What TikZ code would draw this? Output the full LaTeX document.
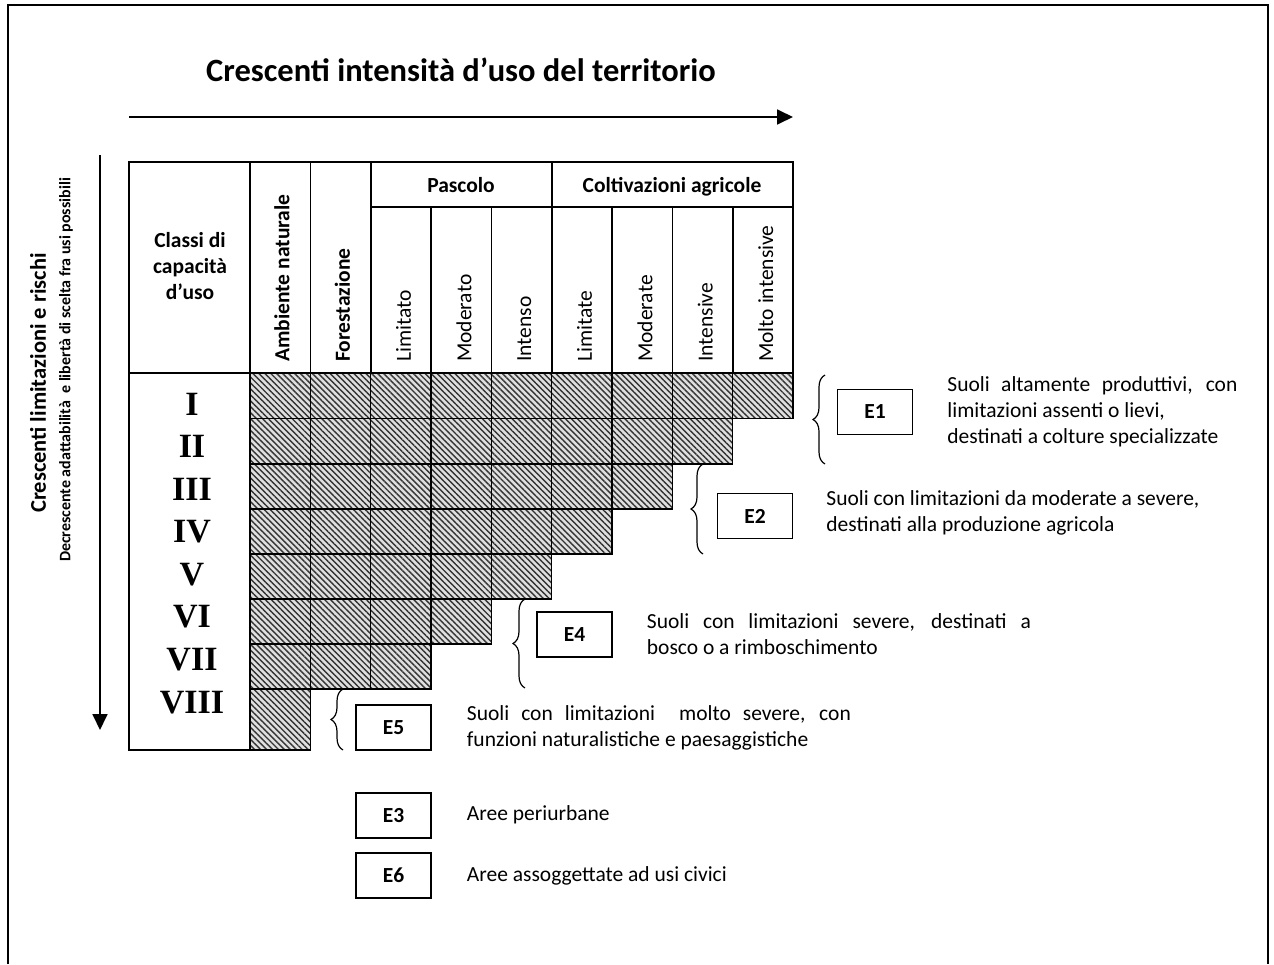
\documentclass[tikz,border=0pt]{standalone}
\usepackage{fontspec}
\setmainfont{Carlito}
\newfontfamily\romanfont{Liberation Serif}
\usetikzlibrary{arrows.meta,patterns.meta,decorations.pathreplacing,positioning}
\tikzset{
        frame/.style={line width=1.6pt},
        grid line/.style={line width=1.6pt},
        hatch/.style={
            preaction={fill=gray!25},
            pattern={Lines[angle=-45,distance=4.2pt,line width=1.4pt]},
            pattern color=black!80
        },
        head/.style={
            font=\fontsize{21.5}{25.6}\selectfont\bfseries,
            align=center
        },
        colhead/.style={
            font=\fontsize{21.5}{25.6}\selectfont,
            rotate=90, anchor=west, inner sep=0pt
        },
        numeral/.style={
            font=\romanfont\fontsize{34}{34}\selectfont\bfseries
        },
        ebox/.style={
            draw, line width=1.4pt,
            minimum width=75pt, minimum height=45pt,
            inner sep=0pt,
            font=\fontsize{21.5}{25}\selectfont\bfseries
        },
        desc/.style={
            font=\fontsize{21.5}{26}\selectfont,
            anchor=west, inner sep=0pt
        },
        curly/.style={
            decorate, decoration={brace, amplitude=12pt},
            line width=1.2pt
        },
        axis/.style={
            line width=1.8pt,
            -{Triangle[length=16pt,width=15pt]}
        }
    }

\begin{document}
\begin{tikzpicture}[x=1pt, y=-1pt]
    \useasboundingbox (0,0) rectangle (1274,964);
    \draw[frame] (8,964) -- (8,5) -- (1268,5) -- (1268,964);

    % title and axes
    \node[head, font=\fontsize{32.5}{36}\selectfont\bfseries] (title) at (461,70)
        {Crescenti intensit\`a d'uso del territorio};
    \coordinate (hstart) at (129,117);
    \coordinate (hend) at (793,117);
    \draw[axis] (hstart) -- (hend);
    \coordinate (vstart) at (100,155);
    \coordinate (vend) at (100,730);
    \draw[axis] (vstart) -- (vend);
    \node[rotate=90, font=\fontsize{22.5}{26}\selectfont\bfseries] (risk) at (38,383)
        {Crescenti limitazioni e rischi};
    \node[rotate=90, font=\fontsize{16}{18}\selectfont\bfseries] (adapt) at (66,370)
        {Decrescente adattabilit\`a\ \ e libert\`a di scelta fra usi possibili};

    % table header
    \draw[grid line] (129,162) rectangle (793,373);
    \foreach \x in {250,310.3,370.7,551.7}
        \draw[grid line] (\x,162) -- (\x,373);
    \draw[grid line] (370.7,207) -- (793,207);
    \foreach \x in {431,491.3,612,672.3,732.7}
        \draw[grid line] (\x,207) -- (\x,373);

    \node[head] (classi) at (190,266) {Classi di\\capacit\`a\\d'uso};
    \node[head, anchor=base] (pascolo) at (461,192) {Pascolo};
    \node[head, anchor=base] (coltiv) at (672,192) {Coltivazioni agricole};
    \node[colhead, font=\fontsize{21.5}{25.6}\selectfont\bfseries] (amb) at (282,362) {Ambiente naturale};
    \node[colhead, font=\fontsize{21.5}{25.6}\selectfont\bfseries] (fore) at (342.5,362) {Forestazione};
    \foreach \t [count=\i from 2] in {Limitato,Moderato,Intenso,Limitate,Moderate,Intensive,Molto intensive}
        \node[colhead] (col\i) at ({250+60.33*\i+33},362) {\t};

    % classes
    \draw[grid line] (129,373) rectangle (250,750);
    \foreach \t [count=\i from 0] in {I,II,III,IV,V,VI,VII,VIII}
        \node[numeral] (num\i) at (192,{404+42.6*\i}) {\t};

    % hatched cells
    \foreach \top/\bot/\n in {373/418.5/9, 418.5/464/8, 464/509/7, 509/554/6,
                              554/599/5, 599/644/4, 644/689/3, 689/750/1}
        \foreach \c in {1,...,\n}
            \draw[grid line, hatch] ({250+60.33*(\c-1)},\top) rectangle ({250+60.33*\c},\bot);

    % groups
    \coordinate (b1top) at (825,375);
    \coordinate (b1bot) at (825,464);
    \coordinate (b2top) at (703,464);
    \coordinate (b2bot) at (703,554);
    \coordinate (b4top) at (525,599);
    \coordinate (b4bot) at (525,688);
    \coordinate (b5top) at (343,689);
    \coordinate (b5bot) at (343,750);
    \draw[curly] (b1bot) -- (b1top);
    \draw[curly] (b2bot) -- (b2top);
    \draw[curly] (b4bot) -- (b4top);
    \draw[curly] (b5bot) -- (b5top);

    \node[ebox] (e1) at (875,412) {E1};
    \node[ebox] (e2) at (755,516) {E2};
    \node[ebox] (e4) at (574.5,634.5) {E4};
    \node[ebox] (e5) at (393.5,727.5) {E5};
    \node[ebox] (e3) at (393.5,815.5) {E3};
    \node[ebox] (e6) at (393.5,875.5) {E6};

    \node[desc, right=34pt of e1, text width=290pt, align=justify] (d1)
        {Suoli altamente produttivi, con\linebreak limitazioni assenti o lievi,\\destinati a colture specializzate};
    \node[desc, right=33pt of e2, align=left, yshift=3pt] (d2)
        {Suoli con limitazioni da moderate a severe,\\destinati alla produzione agricola};
    \node[desc, right=34pt of e4, text width=384pt, align=justify] (d4)
        {Suoli con limitazioni severe, destinati a\linebreak bosco o a rimboschimento};
    \node[desc, right=35pt of e5, text width=384pt, align=justify] (d5)
        {Suoli con limitazioni\ \ molto severe, con\linebreak funzioni naturalistiche e paesaggistiche};
    \node[desc, right=35pt of e3, yshift=1pt] (d3) {Aree periurbane};
    \node[desc, right=35pt of e6] (d6) {Aree assoggettate ad usi civici};
\end{tikzpicture}
\end{document}
